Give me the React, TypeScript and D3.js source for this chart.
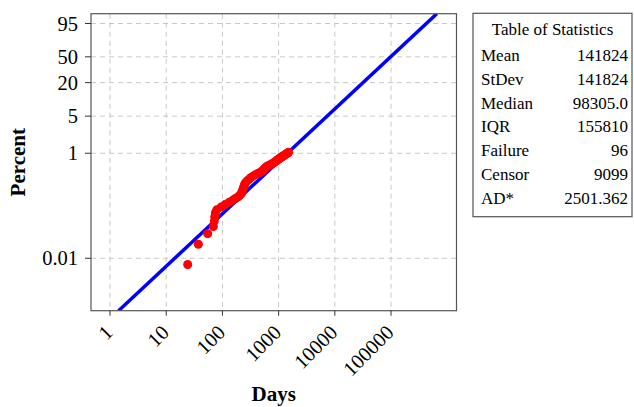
import * as d3 from 'd3';

// failure times (days) and their plotted percents
const failDays = [
  24.1, 37.3, 54.7, 68.9, 71.8, 73.0, 74.8, 79.2, 94.4, 111.2,
  131.6, 151.9, 170.3, 191.1, 204.0, 216.9, 222.3, 227.9, 231.6, 235.5,
  242.3, 248.3, 260.8, 279.6, 298.6,
  321.5, 350.4, 380.3, 419.6, 463.0, 504.5, 525.6, 549.8, 572.8, 594.3,
  619.2, 661.2, 711.8, 753.8, 804.9, 835.1, 866.5, 906.5, 936.6, 975.7,
  1008, 1042, 1085, 1121, 1163, 1207, 1253, 1289, 1332, 1377,
  1417, 1464, 1506,
];
const failPct = [
  0.0076, 0.0185, 0.0294, 0.0402, 0.0511, 0.0620, 0.0729, 0.0837, 0.0946, 0.1055,
  0.1164, 0.1272, 0.1381, 0.1490, 0.1599, 0.1707, 0.1816, 0.1925, 0.2034, 0.2142,
  0.2360, 0.2577, 0.2795, 0.3012, 0.3230,
  0.3447, 0.3665, 0.3882, 0.4100, 0.4317, 0.4535, 0.4752, 0.4970, 0.5187, 0.5405,
  0.5622, 0.5840, 0.6057, 0.6275, 0.6492, 0.6710, 0.6927, 0.7145, 0.7362, 0.7580,
  0.7797, 0.8015, 0.8232, 0.8450, 0.8667, 0.8885, 0.9102, 0.9320, 0.9537, 0.9755,
  0.9972, 1.0190, 1.0407,
];

// fitted exponential line (ends)
const fitDays = [1.42, 653100];
const fitPct = [0.001, 99];

const xTicks = [1, 10, 100, 1000, 10000, 100000];
const yTicks = [0.01, 1, 5, 20, 50, 95];

const statLabels = ['Mean', 'StDev', 'Median', 'IQR', 'Failure', 'Censor', 'AD*'];
const statValues = ['141824', '141824', '98305.0', '155810', '96', '9099', '2501.362'];

const W = 634;
const H = 407;
const margin = { top: 13.7, right: 177.5, bottom: 96.3, left: 91 };
const font = '"Liberation Serif", "Times New Roman", serif';

// exponential probability transform
const tr = (p: number) => Math.log10(-Math.log(1 - p / 100));

export default function App() {
  const x = d3.scaleLog().domain([0.459, 1.462e6]).range([margin.left, W - margin.right]);
  const y = d3.scaleLinear().domain([tr(0.001), tr(99)]).range([H - margin.bottom, margin.top]);
  const x0 = margin.left;
  const x1 = W - margin.right;
  const y0 = H - margin.bottom;
  const y1 = margin.top;

  const fit = d3.line<number>()
    .x((_, i) => x(fitDays[i]))
    .y((_, i) => y(tr(fitPct[i])));

  const tbl = { x: 473, y: 13.3, w: 159, h: 203.4 };

  return (
    <svg width={W} height={H} style={{ position: 'absolute', left: 0, top: 0, background: '#fff' }}
      fontFamily={font}>
      <defs>
        <clipPath id="plot">
          <rect x={x0} y={y1} width={x1 - x0} height={y0 - y1} />
        </clipPath>
      </defs>

      {/* grid */}
      {xTicks.map(t => (
        <line key={'gx' + t} x1={x(t)} x2={x(t)} y1={y1} y2={y0} stroke="#c8c8c8" strokeDasharray="5,4" />
      ))}
      {yTicks.map(t => (
        <line key={'gy' + t} x1={x0} x2={x1} y1={y(tr(t))} y2={y(tr(t))} stroke="#c8c8c8" strokeDasharray="5,4" />
      ))}

      <g clipPath="url(#plot)">
        <path d={fit(fitDays) || ''} fill="none" stroke="#0000ff" strokeWidth={3.5} />
        {failDays.map((d, i) => (
          <circle key={i} cx={x(d)} cy={y(tr(failPct[i]))} r={4.5} fill="#ff0000" />
        ))}
      </g>

      <rect x={x0} y={y1} width={x1 - x0} height={y0 - y1} fill="none" stroke="#555" strokeWidth={1.2} />

      {/* y axis */}
      {yTicks.map(t => (
        <g key={'yt' + t}>
          <line x1={x0 - 6} x2={x0} y1={y(tr(t))} y2={y(tr(t))} stroke="#333" />
          <text x={x0 - 13} y={y(tr(t))} dy="0.35em" textAnchor="end" fontSize={20.5}>{t}</text>
        </g>
      ))}

      {/* x axis */}
      {xTicks.map(t => (
        <g key={'xt' + t}>
          <line x1={x(t)} x2={x(t)} y1={y0} y2={y0 + 5} stroke="#333" />
          <text transform={`translate(${x(t) + 4},${y0 + 23}) rotate(-45)`} textAnchor="end" fontSize={20.5}>
            {t}
          </text>
        </g>
      ))}

      <text transform={`translate(25,${(y0 + y1) / 2}) rotate(-90)`} textAnchor="middle" fontSize={21}
        fontWeight="bold">Percent</text>
      <text x={(x0 + x1) / 2} y={401} textAnchor="middle" fontSize={21} fontWeight="bold">Days</text>

      {/* statistics table */}
      <rect x={tbl.x} y={tbl.y} width={tbl.w} height={tbl.h} fill="#fff" stroke="#555" strokeWidth={1.2} />
      <text x={tbl.x + tbl.w / 2} y={29} dy="0.35em" textAnchor="middle" fontSize={17}>Table of Statistics</text>
      {statLabels.map((l, i) => (
        <g key={l}>
          <text x={tbl.x + 8} y={55 + i * 23.8} dy="0.35em" fontSize={17}>{l}</text>
          <text x={tbl.x + tbl.w - 4} y={55 + i * 23.8} dy="0.35em" textAnchor="end" fontSize={17}>
            {statValues[i]}
          </text>
        </g>
      ))}
    </svg>
  );
}
